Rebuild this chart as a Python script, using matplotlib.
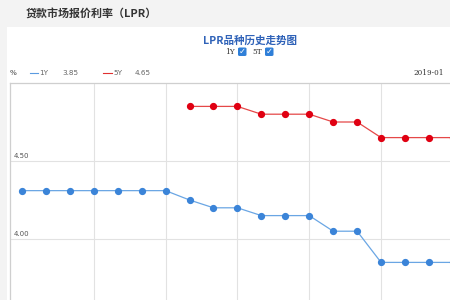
import numpy as np
import matplotlib
matplotlib.use("Agg")
import matplotlib.pyplot as plt
from matplotlib.patches import Rectangle, FancyBboxPatch

months = ['2019-01', '2019-02', '2019-03', '2019-04', '2019-05', '2019-06', '2019-07',
          '2019-08', '2019-09', '2019-10', '2019-11', '2019-12', '2020-01', '2020-02',
          '2020-03', '2020-04', '2020-05', '2020-06', '2020-07']
lpr_1y = [4.31, 4.31, 4.31, 4.31, 4.31, 4.31, 4.31,
          4.25, 4.20, 4.20, 4.15, 4.15, 4.15, 4.05, 4.05, 3.85, 3.85, 3.85, 3.85]
lpr_5y = [np.nan, np.nan, np.nan, np.nan, np.nan, np.nan, np.nan,
          4.85, 4.85, 4.85, 4.80, 4.80, 4.80, 4.75, 4.75, 4.65, 4.65, 4.65, 4.65]
y_ticks = [4.00, 4.50]
grid_months = ['2019-04', '2019-07', '2019-10', '2020-01', '2020-04']

CJK = ['Noto Sans CJK SC', 'DejaVu Sans']
W, H = 450, 300
fig = plt.figure(figsize=(4.5, 3.0), dpi=100)
fig.patch.set_facecolor('white')

def px(x, y):
    return x / W, 1 - y / H

# page background bands
fig.patches.append(Rectangle((0, 1 - 27 / H), 1, 27 / H, transform=fig.transFigure,
                             facecolor='#f3f3f3', edgecolor='none', zorder=0))
fig.patches.append(Rectangle((0, 0), 7 / W, 1 - 27 / H, transform=fig.transFigure,
                             facecolor='#f3f3f3', edgecolor='none', zorder=0))

fig.text(*px(26, 13), '贷款市场报价利率（LPR）', family=CJK, fontsize=7.9,
         fontweight='bold', color='#333333', ha='left', va='center')
fig.text(*px(250, 40.5), 'LPR品种历史走势图', family=CJK, fontsize=7.6,
         fontweight='bold', color='#2f62b8', ha='center', va='center')

# legend checkboxes line
fig.text(*px(230, 52), '1Y', family='DejaVu Serif', fontsize=5.3, color='#333333',
         ha='center', va='center')
fig.text(*px(257, 52), '5T', family='DejaVu Serif', fontsize=5.3, color='#333333',
         ha='center', va='center')
for bx in (238, 265):
    x0, y0 = px(bx, 56)
    fig.patches.append(FancyBboxPatch((x0, y0), 8.5 / W, 8.5 / H,
                                      boxstyle='round,pad=0,rounding_size=0.004',
                                      transform=fig.transFigure, facecolor='#2f7fd8',
                                      edgecolor='none'))
    fig.text(*px(bx + 4.3, 51.8), '✓', family='DejaVu Sans', fontsize=6,
             fontweight='bold', color='white', ha='center', va='center')

# header row
hy = 73
fig.text(*px(10, hy), '%', fontsize=5.2, color='#444444', ha='left', va='center')
fig.lines.append(plt.Line2D([30 / W, 38 / W], [1 - hy / H] * 2, transform=fig.transFigure,
                            color='#5b9be0', lw=0.8))
fig.text(*px(39, hy), '1Y', fontsize=5.2, color='#666666', ha='left', va='center')
fig.text(*px(62, hy), '3.85', fontsize=5.2, color='#666666', ha='left', va='center')
fig.lines.append(plt.Line2D([103 / W, 112 / W], [1 - hy / H] * 2, transform=fig.transFigure,
                            color='#e03030', lw=0.8))
fig.text(*px(113, hy), '5Y', fontsize=5.2, color='#666666', ha='left', va='center')
fig.text(*px(135, hy), '4.65', fontsize=5.2, color='#666666', ha='left', va='center')
fig.text(*px(444, hy), months[0], fontsize=5.2, family='DejaVu Serif', color='#333333',
         ha='right', va='center')

# plot area
ax = fig.add_axes([10 / W, 0, 440 / W, (300 - 83) / H])
x = np.arange(len(months))
ax.plot(x, lpr_1y, color='#6aa6e4', lw=0.9, marker='o', markersize=4.2,
        markerfacecolor='#3b84d8', markeredgecolor='#3b84d8', zorder=3)
ax.plot(x, lpr_5y, color='#e54848', lw=0.9, marker='o', markersize=4.2,
        markerfacecolor='#e00012', markeredgecolor='#e00012', zorder=3)

ax.set_xlim(-0.5, 17.88)
ax.set_ylim(3.609, 5.0)
ax.set_xticks([months.index(m) for m in grid_months])
ax.set_yticks(y_ticks)
ax.tick_params(length=0, labelbottom=False, labelleft=False)
ax.grid(True, color='#e2e2e2', lw=0.8)
ax.set_axisbelow(True)
for s in ('right', 'bottom'):
    ax.spines[s].set_visible(False)
for s in ('top', 'left'):
    ax.spines[s].set_color('#cfcfcf')
    ax.spines[s].set_linewidth(0.9)
for v in y_ticks:
    ax.text(-0.36, v + 0.012, f'{v:.2f}', fontsize=5.0, color='#555555',
            ha='left', va='bottom')

fig.savefig('out.png', dpi=100)
